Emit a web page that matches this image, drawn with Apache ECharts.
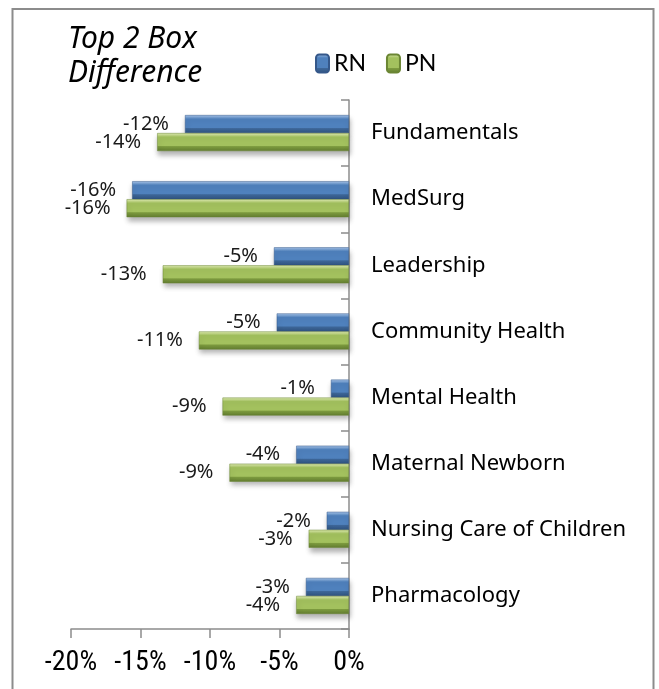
<!DOCTYPE html>
<html>
<head>
<meta charset="utf-8">
<script src="https://cdn.jsdelivr.net/npm/echarts@6/dist/echarts.min.js"></script>
<style>
  html, body { margin: 0; padding: 0; background: #fff; }
  #main { width: 659px; height: 689px; }
</style>
</head>
<body>
<div id="main"></div>
<script>
// data
var categories = ['Fundamentals', 'MedSurg', 'Leadership', 'Community Health',
                  'Mental Health', 'Maternal Newborn', 'Nursing Care of Children', 'Pharmacology'];
var rnValues = [-11.8, -15.6, -5.4, -5.2, -1.3, -3.8, -1.6, -3.1];
var pnValues = [-13.8, -16.0, -13.4, -10.8, -9.1, -8.6, -2.9, -3.8];
var xTicks = [-20, -15, -10, -5, 0];

var myChart = echarts.init(document.getElementById('main'));

function bevel(light, mid, dark, edge) {
    return new echarts.graphic.LinearGradient(0, 0, 0, 1, [
        { offset: 0, color: light },
        { offset: 0.22, color: mid },
        { offset: 0.7, color: mid },
        { offset: 0.75, color: dark },
        { offset: 1, color: edge }
    ]);
}

function pct(p) {
    return Math.round(p.value) + '%';
}

var labelStyle = {
    show: true,
    position: 'left',
    distance: 16,
    formatter: pct,
    fontFamily: '"Noto Sans", Lato, sans-serif',
    fontSize: 20,
    color: '#1a1a1a'
};

var option = {
    animation: false,
    backgroundColor: '#fff',
    graphic: [
        {
            type: 'rect',
            shape: { x: 12.5, y: 9, width: 641, height: 700 },
            style: { fill: 'none', stroke: '#8c8c8c', lineWidth: 2 }
        },
        {
            type: 'text',
            left: 68, top: 22,
            style: {
                text: 'Top 2 Box\nDifference',
                font: 'italic 30px "Noto Sans", Lato, sans-serif',
                fill: '#000',
                lineHeight: 34
            }
        }
    ],
    legend: {
        left: 310,
        top: 47,
        itemWidth: 13,
        itemHeight: 18,
        itemGap: 20,
        textStyle: { fontFamily: 'Lato, "Noto Sans", sans-serif', fontSize: 23, color: '#000' },
        data: ['RN', 'PN']
    },
    grid: {
        left: 71,
        right: 310,
        top: 100,
        bottom: 60
    },
    xAxis: {
        type: 'value',
        min: -20,
        max: 0,
        interval: 5,
        splitLine: { show: false },
        axisLine: { show: true, lineStyle: { color: '#8c8c8c', width: 1.5 } },
        axisTick: { show: true, length: 9, lineStyle: { color: '#8c8c8c', width: 1.5 } },
        axisLabel: {
            margin: 20,
            formatter: function (v) { return xTicks.indexOf(v) >= 0 ? v + '%' : ''; },
            fontFamily: '"Liberation Sans Narrow", "Roboto Condensed", Roboto, sans-serif',
            fontSize: 28,
            color: '#000'
        }
    },
    yAxis: {
        type: 'category',
        data: categories,
        inverse: true,
        position: 'right',
        axisLine: { show: true, onZero: false, lineStyle: { color: '#8c8c8c', width: 1.5 } },
        axisTick: { show: true, inside: true, length: 8, lineStyle: { color: '#8c8c8c', width: 1.5 } },
        axisLabel: {
            margin: 22,
            fontFamily: '"Noto Sans", Lato, sans-serif',
            fontSize: 22,
            color: '#000'
        }
    },
    series: [
        {
            name: 'RN',
            type: 'bar',
            data: rnValues,
            barWidth: 18,
            barGap: '0%',
            itemStyle: {
                color: bevel('#a9c6ea', '#4f81bd', '#3d6698', '#2f527e'),
                borderColor: '#35588a',
                borderWidth: 0.5,
                shadowBlur: 5,
                shadowOffsetX: 1,
                shadowOffsetY: 4,
                shadowColor: 'rgba(0,0,0,0.3)'
            },
            label: labelStyle
        },
        {
            name: 'PN',
            type: 'bar',
            data: pnValues,
            barWidth: 18,
            itemStyle: {
                color: bevel('#e0ecb4', '#a3c15e', '#7c9a3e', '#627c30'),
                borderColor: '#6b8634',
                borderWidth: 0.5,
                shadowBlur: 5,
                shadowOffsetX: 1,
                shadowOffsetY: 4,
                shadowColor: 'rgba(0,0,0,0.3)'
            },
            label: labelStyle
        }
    ]
};
myChart.setOption(option);
</script>
</body>
</html>
